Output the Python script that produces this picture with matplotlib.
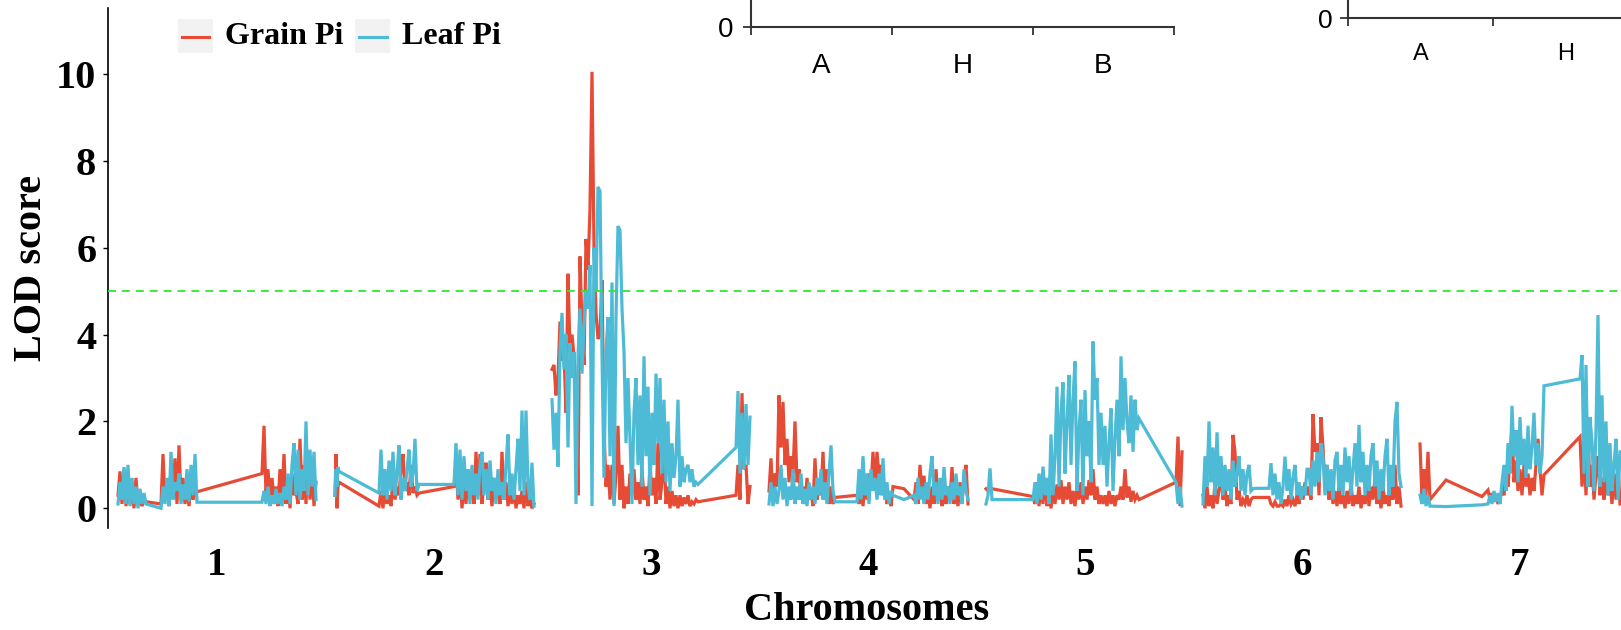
import numpy as np
import matplotlib
matplotlib.use("Agg")
import matplotlib.pyplot as plt
from matplotlib.patches import Rectangle
from matplotlib.lines import Line2D

# ---------------- data ----------------
chromosomes = ["1", "2", "3", "4", "5", "6", "7"]
series_names = ["Grain Pi", "Leaf Pi"]
threshold = 5
inset1_labels = ["A", "H", "B"]
inset2_labels = ["A", "H"]
y_ticks = [0, 2, 4, 6, 8, 10]

# marker positions inside each chromosome (cM-like units, 0..200)
chr1_pos = [*range(0, 29, 2), *range(43, 80, 2), *range(144, 199, 2)]
chr1_grain = [0.3, 0.85, 0.1, 0.9, 0.05, 0.6, 0.1, 0.45, 0.0, 0.7, 0.1, 0.35, 0.05, 0.2, 0.15,
              0.1, 1.25, 0.2, 0.6, 0.05, 0.9, 0.3, 1.15, 0.1, 1.45, 0.2, 0.7, 0.1, 0.5, 0.05, 0.6, 0.2, 0.4, 0.38,
              0.8, 1.9, 0.3, 0.9, 0.1, 0.7, 0.2, 0.5, 0.05, 0.9, 0.3, 1.25, 0.1, 0.6, 0.0, 0.8, 0.3, 0.4, 0.1, 1.6,
              0.2, 1.0, 0.1, 1.3, 0.2, 0.9, 0.05, 0.6]
chr1_leaf = [0.1, 0.6, 0.2, 0.95, 0.1, 1.0, 0.05, 0.7, 0.1, 0.5, 0.0, 0.45, 0.1, 0.35, 0.1,
             0.0, 0.5, 0.1, 0.7, 0.05, 1.3, 0.2, 0.6, 0.4, 0.8, 0.1, 0.55, 0.2, 0.9, 0.15, 1.0, 0.3, 1.25, 0.14,
             0.14, 0.4, 0.1, 0.5, 0.05, 0.3, 0.1, 0.45, 0.1, 0.35, 0.05, 0.5, 0.2, 0.8, 0.1, 1.0, 1.5, 0.3, 1.35, 0.2,
             0.9, 0.4, 2.0, 0.3, 1.35, 0.5, 1.3, 0.2]

chr2_pos = [0, 1, 2, 3, 4, *range(44, 85, 2), *range(119, 200, 2)]
chr2_grain = [0.3, 1.25, 0.0, 0.5, 0.6,
              0.05, 0.4, 0.0, 0.6, 0.1, 0.3, 0.05, 0.7, 0.2, 0.5, 0.3, 0.9, 1.25, 0.4, 0.6, 0.3, 1.0, 0.35, 0.5, 0.3, 0.35,
              0.5, 1.0, 0.2, 0.8, 0.0, 0.6, 0.1, 0.9, 0.2, 0.7, 0.1, 1.3, 0.3, 1.25, 0.1, 0.6, 1.05, 0.2, 0.5, 0.05,
              0.7, 0.3, 0.5, 0.1, 1.3, 0.2, 0.6, 0.05, 0.4, 0.1, 0.5, 0.0, 0.3, 0.1, 0.4, 0.0, 0.6, 0.05, 0.25, 0.0, 0.1]
chr2_leaf = [0.3, 0.9, 0.5, 0.95, 0.85,
             0.35, 1.35, 0.3, 0.9, 0.2, 1.1, 0.4, 1.3, 0.3, 0.8, 1.45, 0.2, 0.7, 0.4, 0.9, 1.35, 0.5, 0.8, 1.6, 0.4, 0.55,
             0.55, 1.5, 0.3, 1.35, 0.2, 1.2, 0.4, 0.9, 0.1, 1.0, 0.3, 0.8, 0.2, 1.0, 1.3, 0.3, 0.9, 0.2, 1.1, 0.4,
             0.7, 0.1, 0.9, 0.3, 0.6, 0.2, 1.0, 1.7, 0.3, 0.8, 0.2, 0.9, 1.6, 0.4, 2.25, 0.3, 2.25, 0.5, 0.2, 1.05, 0.05]

chr3_pos = [*range(0, 147, 2), *range(184, 199, 2)]
chr3_grain = [3.2, 3.3, 2.6, 3.0, 4.3, 3.4, 3.6, 2.2, 5.4, 3.6, 4.0, 3.5, 2.8, 0.3, 5.8,
              4.2, 3.3, 6.2, 5.5, 6.9, 10.05, 6.0, 4.5, 3.9, 4.0, 5.25, 1.8, 0.5, 1.0, 0.2,
              1.0, 0.1, 0.8, 1.9, 0.2, 1.0, 0.0, 0.5, 0.1, 0.8, 0.3, 0.9, 0.2, 0.6, 0.1,
              0.9, 0.2, 0.5, 0.05, 1.0, 0.3, 0.7, 0.1, 1.5, 0.2, 0.6, 1.3, 0.1, 0.5, 0.0,
              0.4, 0.05, 0.3, 0.0, 0.3, 0.05, 0.25, 0.1, 0.3, 0.05, 0.15, 0.1, 0.2, 0.15,
              0.3, 1.0, 0.2, 2.65, 0.9, 1.0, 0.1, 0.5]
chr3_leaf = [2.5, 1.35, 2.2, 0.96, 3.6, 4.5, 3.2, 4.0, 1.4, 3.8, 3.0, 3.6, 0.1, 3.5, 4.6,
             3.1, 4.2, 5.0, 4.6, 5.6, 0.05, 6.0, 5.0, 7.4, 7.3, 3.5, 0.7, 3.6, 4.4, 1.2,
             5.2, 0.05, 4.4, 6.5, 6.4, 4.6, 3.6, 1.5, 3.0, 1.6, 0.1, 2.2, 3.0, 1.0, 2.6,
             0.5, 3.5, 1.2, 2.8, 0.3, 2.2, 1.0, 3.1, 1.5, 3.0, 0.8, 2.5, 0.6, 2.0, 0.4,
             1.5, 0.7, 1.2, 2.5, 0.5, 1.2, 0.6, 0.9, 1.0, 0.6, 0.9, 0.5, 0.6, 0.55,
             1.4, 2.7, 0.8, 2.2, 0.9, 2.4, 1.0, 2.1]

chr4_pos = [*range(0, 67, 2), *range(88, 125, 2), 135, *range(145, 200, 2)]
chr4_grain = [0.4, 1.15, 0.2, 0.8, 0.5, 2.6, 1.4, 2.45, 1.0, 1.6, 0.6, 1.2, 0.8, 2.0, 0.6,
              0.9, 0.2, 0.5, 0.1, 0.7, 0.2, 0.4, 0.05, 1.15, 0.2, 0.6, 0.3, 1.3, 0.2, 0.9,
              0.1, 0.5, 0.1, 0.25,
              0.3, 0.1, 0.5, 0.05, 0.6, 0.2, 0.8, 0.5, 1.3, 0.4, 1.3, 0.7, 1.0, 0.3, 0.6, 0.1, 0.3, 0.05, 0.5,
              0.45,
              0.2, 0.6, 0.1, 1.0, 0.3, 0.75, 0.1, 0.4, 0.0, 0.5, 0.1, 0.9, 0.2, 0.5, 0.05,
              0.3, 0.1, 0.5, 0.2, 0.95, 0.1, 0.4, 0.05, 0.6, 0.1, 0.7, 1.0, 0.1]
chr4_leaf = [0.1, 0.6, 0.05, 0.5, 0.1, 0.4, 1.0, 0.2, 0.7, 0.05, 0.5, 0.2, 0.9, 0.1, 0.5,
             0.2, 0.8, 0.1, 0.45, 0.05, 0.6, 0.2, 0.5, 0.1, 0.7, 0.3, 0.9, 0.2, 0.6, 0.1,
             0.8, 1.45, 0.4, 0.15,
             0.15, 0.9, 0.2, 1.2, 0.3, 0.8, 0.1, 0.9, 0.4, 0.7, 0.2, 0.8, 0.3, 1.15, 0.2, 0.6, 0.1, 0.4, 0.3,
             0.2,
             0.3, 0.1, 0.7, 0.2, 0.5, 0.1, 0.6, 0.2, 0.8, 1.2, 0.3, 0.6, 0.1, 0.7, 0.2,
             0.95, 0.3, 0.5, 0.1, 0.6, 0.2, 0.8, 0.3, 0.5, 0.1, 0.9, 0.4, 0.2]

chr5_pos = [0, 2, 4, 6, *range(47, 116, 2), *range(117, 154, 2), 190, 192, 194, 196]
chr5_grain = [0.45, 0.4, 0.45, 0.45,
              0.27, 0.1, 0.6, 0.05, 0.5, 0.1, 0.7, 0.05, 0.3, 0.0, 0.45, 0.1, 0.55, 0.2, 0.65,
              0.1, 0.5, 0.2, 0.6, 0.1, 0.4, 0.05, 0.5, 0.2, 0.6, 0.1, 0.5, 0.2, 0.65, 0.3,
              0.9, 0.2, 0.5, 0.1, 0.3,
              0.1, 0.3, 0.05, 0.4, 0.1, 0.3, 0.05, 0.3, 0.2, 0.5, 0.2, 0.9, 0.25, 0.5, 0.15,
              0.4, 0.2, 0.3, 0.2,
              0.6, 1.65, 0.05, 1.3]
chr5_leaf = [0.1, 0.3, 0.92, 0.2,
             0.2, 0.6, 0.1, 0.8, 0.2, 0.96, 0.3, 0.7, 0.1, 1.7, 0.3, 1.2, 2.8, 0.5, 2.2,
             2.9, 0.8, 2.0, 3.07, 1.0, 2.5, 3.38, 0.4, 1.8, 2.5, 0.3, 2.72, 1.2, 2.0, 0.6,
             3.84, 2.5, 3.0, 1.0, 2.2,
             1.0, 1.9, 0.5, 1.5, 2.3, 0.4, 1.6, 2.5, 1.2, 3.5, 1.8, 3.0, 2.0, 1.5, 2.6,
             1.3, 2.5, 1.8, 2.07,
             0.6, 0.1, 0.5, 0.05]

chr6_pos = [*range(0, 51, 2), 52, *range(66, 105, 2), *range(106, 199, 2)]
chr6_grain = [0.3, 0.0, 0.5, 0.05, 0.3, 0.0, 0.6, 0.1, 0.4, 0.9, 0.2, 0.5, 0.05, 0.3, 0.1,
              1.69, 1.3, 0.2, 0.4, 0.05, 0.2, 0.1, 0.3, 0.05, 0.2, 0.25,
              0.25, 0.25, 0.1, 0.05, 0.15, 0.05, 0.05, 0.1, 0.05, 0.2, 0.05, 0.3, 0.1, 0.2, 0.05,
              0.3, 0.1, 0.5, 0.2, 0.6, 0.3,
              0.5, 0.2, 2.17, 1.3, 1.5, 0.3, 2.1, 1.4, 0.5, 1.0, 0.2, 0.6, 0.1, 0.4, 0.05,
              0.5, 0.1, 0.3, 0.0, 0.4, 0.1, 0.6, 0.05, 0.3, 0.1, 0.5, 0.0, 0.3, 0.1, 0.6,
              0.05, 0.5, 0.2, 0.7, 0.1, 0.4, 0.0, 0.5, 0.1, 0.3, 0.05, 0.6, 0.2, 1.0, 0.1,
              0.5, 0.05]
chr6_leaf = [0.1, 1.2, 0.5, 2.0, 0.6, 1.4, 0.3, 1.75, 0.5, 1.2, 0.3, 1.0, 0.4, 0.9, 0.2,
             1.1, 0.5, 0.8, 1.2, 0.4, 0.9, 0.3, 0.8, 1.0, 0.4, 0.45,
             0.46, 0.46, 1.04, 0.3, 0.8, 0.2, 0.6, 0.1, 0.5, 1.19, 0.4, 0.9, 0.2, 0.7, 1.0,
             0.3, 0.6, 0.2, 0.5, 0.3, 0.9,
             0.9, 0.3, 1.1, 0.5, 1.3, 0.6, 1.5, 1.2, 0.3, 1.0, 0.4, 0.9, 0.2, 1.1, 1.3,
             0.4, 1.0, 0.3, 1.4, 0.6, 1.2, 0.3, 0.9, 1.5, 0.5, 1.92, 0.6, 1.3, 0.3, 1.0,
             0.4, 1.2, 1.5, 0.5, 1.1, 0.2, 0.9, 0.4, 1.2, 1.6, 0.3, 1.0, 0.5, 2.0, 2.45,
             0.8, 0.5]

chr7_pos = [*range(0, 11, 2), 26, 62, *range(68, 83, 2), *range(84, 121, 2), 122, 124, 160, *range(162, 201, 2)]
chr7_grain = [1.48, 0.2, 0.9, 0.3, 1.3, 0.2,
              0.65, 0.27,
              0.42, 0.2, 0.35, 0.15, 0.3, 0.1, 0.25, 0.4,
              0.3, 0.9, 0.5, 1.2, 1.84, 0.6, 1.1, 0.4, 0.9, 0.3, 1.0, 0.5, 0.8, 0.3, 0.7,
              0.4, 1.0, 1.6, 0.9,
              0.3, 0.77, 1.65,
              0.5, 1.4, 0.3, 1.6, 0.5, 1.0, 0.2, 0.8, 1.2, 0.3, 0.7, 0.2, 1.1, 0.3, 0.6,
              0.1, 0.8, 0.2, 1.0, 0.1]
chr7_leaf = [0.3, 0.1, 0.45, 0.05, 0.3, 0.05,
             0.04, 0.08,
             0.1, 0.3, 0.1, 0.4, 0.15, 0.35, 0.1, 0.6,
             1.0, 0.4, 1.5, 0.8, 2.36, 1.2, 1.8, 0.6, 2.1, 1.0, 1.6, 0.7, 1.9, 0.9, 1.4,
             2.2, 1.0, 1.5, 0.8,
             1.2, 2.82, 2.98,
             3.53, 0.8, 3.3, 0.5, 2.1, 1.5, 0.4, 1.8, 4.45, 0.5, 2.6, 0.6, 2.0, 0.3, 1.5,
             0.4, 1.0, 1.6, 0.2, 1.3]

positions = [chr1_pos, chr2_pos, chr3_pos, chr4_pos, chr5_pos, chr6_pos, chr7_pos]
grain = [chr1_grain, chr2_grain, chr3_grain, chr4_grain, chr5_grain, chr6_grain, chr7_grain]
leaf = [chr1_leaf, chr2_leaf, chr3_leaf, chr4_leaf, chr5_leaf, chr6_leaf, chr7_leaf]

# ---------------- style ----------------
RED = "#E64B35"
BLUE = "#4DBBD5"
SERIF = ["Liberation Serif", "DejaVu Serif"]
SANS = ["Liberation Sans", "DejaVu Sans"]
SLOT = 217.0          # position units per chromosome slot
CHR_LEN = 198.0

W, H = 1621, 630
fig = plt.figure(figsize=(W / 100, H / 100), dpi=100)
fig.patch.set_facecolor("white")

def fx(px):
    return px / W

def fy(py):
    return 1 - py / H

ax_left, ax_right = 108.3, 1621
ax_top, ax_bottom = 8, 528
ax = fig.add_axes([fx(ax_left), fy(ax_bottom), fx(ax_right - ax_left), (ax_bottom - ax_top) / H])

for i in range(len(chromosomes)):
    xs = i + np.asarray(positions[i], dtype=float) / SLOT
    ax.plot(xs, grain[i], color=RED, lw=2.3, solid_joinstyle="miter", zorder=2)
    ax.plot(xs, leaf[i], color=BLUE, lw=2.3, solid_joinstyle="miter", zorder=3)

ax.axhline(threshold, color="#2BEA2B", lw=1.3, dashes=(4.4, 3.3), zorder=4)

x0_px = 118.0
ax.set_xlim(-(x0_px - ax_left) / SLOT, (ax_right - x0_px) / SLOT)
px_per_unit = 43.43
zero_px = 508.3
ax.set_ylim((zero_px - ax_bottom) / px_per_unit, (zero_px - ax_top) / px_per_unit)

for s in ["top", "right", "bottom"]:
    ax.spines[s].set_visible(False)
ax.spines["left"].set_linewidth(1.2)
ax.spines["left"].set_color("black")

ax.set_yticks(y_ticks)
ax.set_yticklabels([str(v) for v in y_ticks], fontfamily=SERIF, fontweight="bold", fontsize=29)
ax.tick_params(axis="y", length=3.6, width=1, pad=5, colors="black")
ax.set_xticks([i + CHR_LEN / 2 / SLOT for i in range(len(chromosomes))])
ax.set_xticklabels(chromosomes, fontfamily=SERIF, fontweight="bold", fontsize=28)
ax.tick_params(axis="x", length=0, pad=14)

fig.text(fx(32), fy(268), "LOD score", rotation=90, ha="center", va="center",
         fontfamily=SERIF, fontweight="bold", fontsize=29)
fig.text(fx(867), fy(620), "Chromosomes", ha="center", va="baseline",
         fontfamily=SERIF, fontweight="bold", fontsize=29)

# legend (ggplot-like keys with grey background)
leg = [(177.5, 212.5, 225, RED, series_names[0]), (354.6, 390, 402.5, BLUE, series_names[1])]
for kx0, kx1, tx, col, lab in leg:
    fig.add_artist(Rectangle((fx(kx0), fy(53)), fx(kx1 - kx0), (53 - 19) / H,
                             transform=fig.transFigure, facecolor="#F2F2F2", edgecolor="none"))
    fig.add_artist(Line2D([fx(kx0 + 4.5), fx(kx1 - 3.5)], [fy(36.7), fy(36.7)],
                          transform=fig.transFigure, color=col, lw=2.2))
    fig.text(fx(tx), fy(37), lab, ha="left", va="center", fontfamily=SERIF,
             fontweight="bold", fontsize=23)

# overlapping inset axes (partially visible panels at the top)
def inset(left_px, axis_px, step_px, labels, fs_lab, fs_zero, pad_lab, pad_zero):
    iax = fig.add_axes([fx(left_px), fy(axis_px), fx(3 * step_px), 0.3])
    iax.set_xlim(0, 3)
    iax.set_ylim(0, 1)
    iax.patch.set_alpha(0)
    for s in ["top", "right"]:
        iax.spines[s].set_visible(False)
    for s in ["left", "bottom"]:
        iax.spines[s].set_linewidth(1.5)
        iax.spines[s].set_color("#333333")
    iax.set_xticks([0, 1, 2, 3])
    iax.set_xticklabels([])
    iax.set_xticks([k + 0.5 for k in range(len(labels))], minor=True)
    iax.set_xticklabels(labels, minor=True, fontfamily=SANS, fontsize=fs_lab)
    iax.tick_params(axis="x", which="major", length=5.5, width=1.3, color="#333333")
    iax.tick_params(axis="x", which="minor", length=0, pad=pad_lab)
    iax.set_yticks([0])
    iax.set_yticklabels(["0"], fontfamily=SANS, fontsize=fs_zero)
    iax.tick_params(axis="y", length=5.5, width=1.3, color="#333333", pad=pad_zero)
    return iax

inset(751, 26.7, 141, inset1_labels, 20, 20, 19, 7)
inset(1347.7, 18.3, 145.3, inset2_labels, 17, 19, 18, 5)

fig.savefig("out.png", dpi=100, facecolor="white")
